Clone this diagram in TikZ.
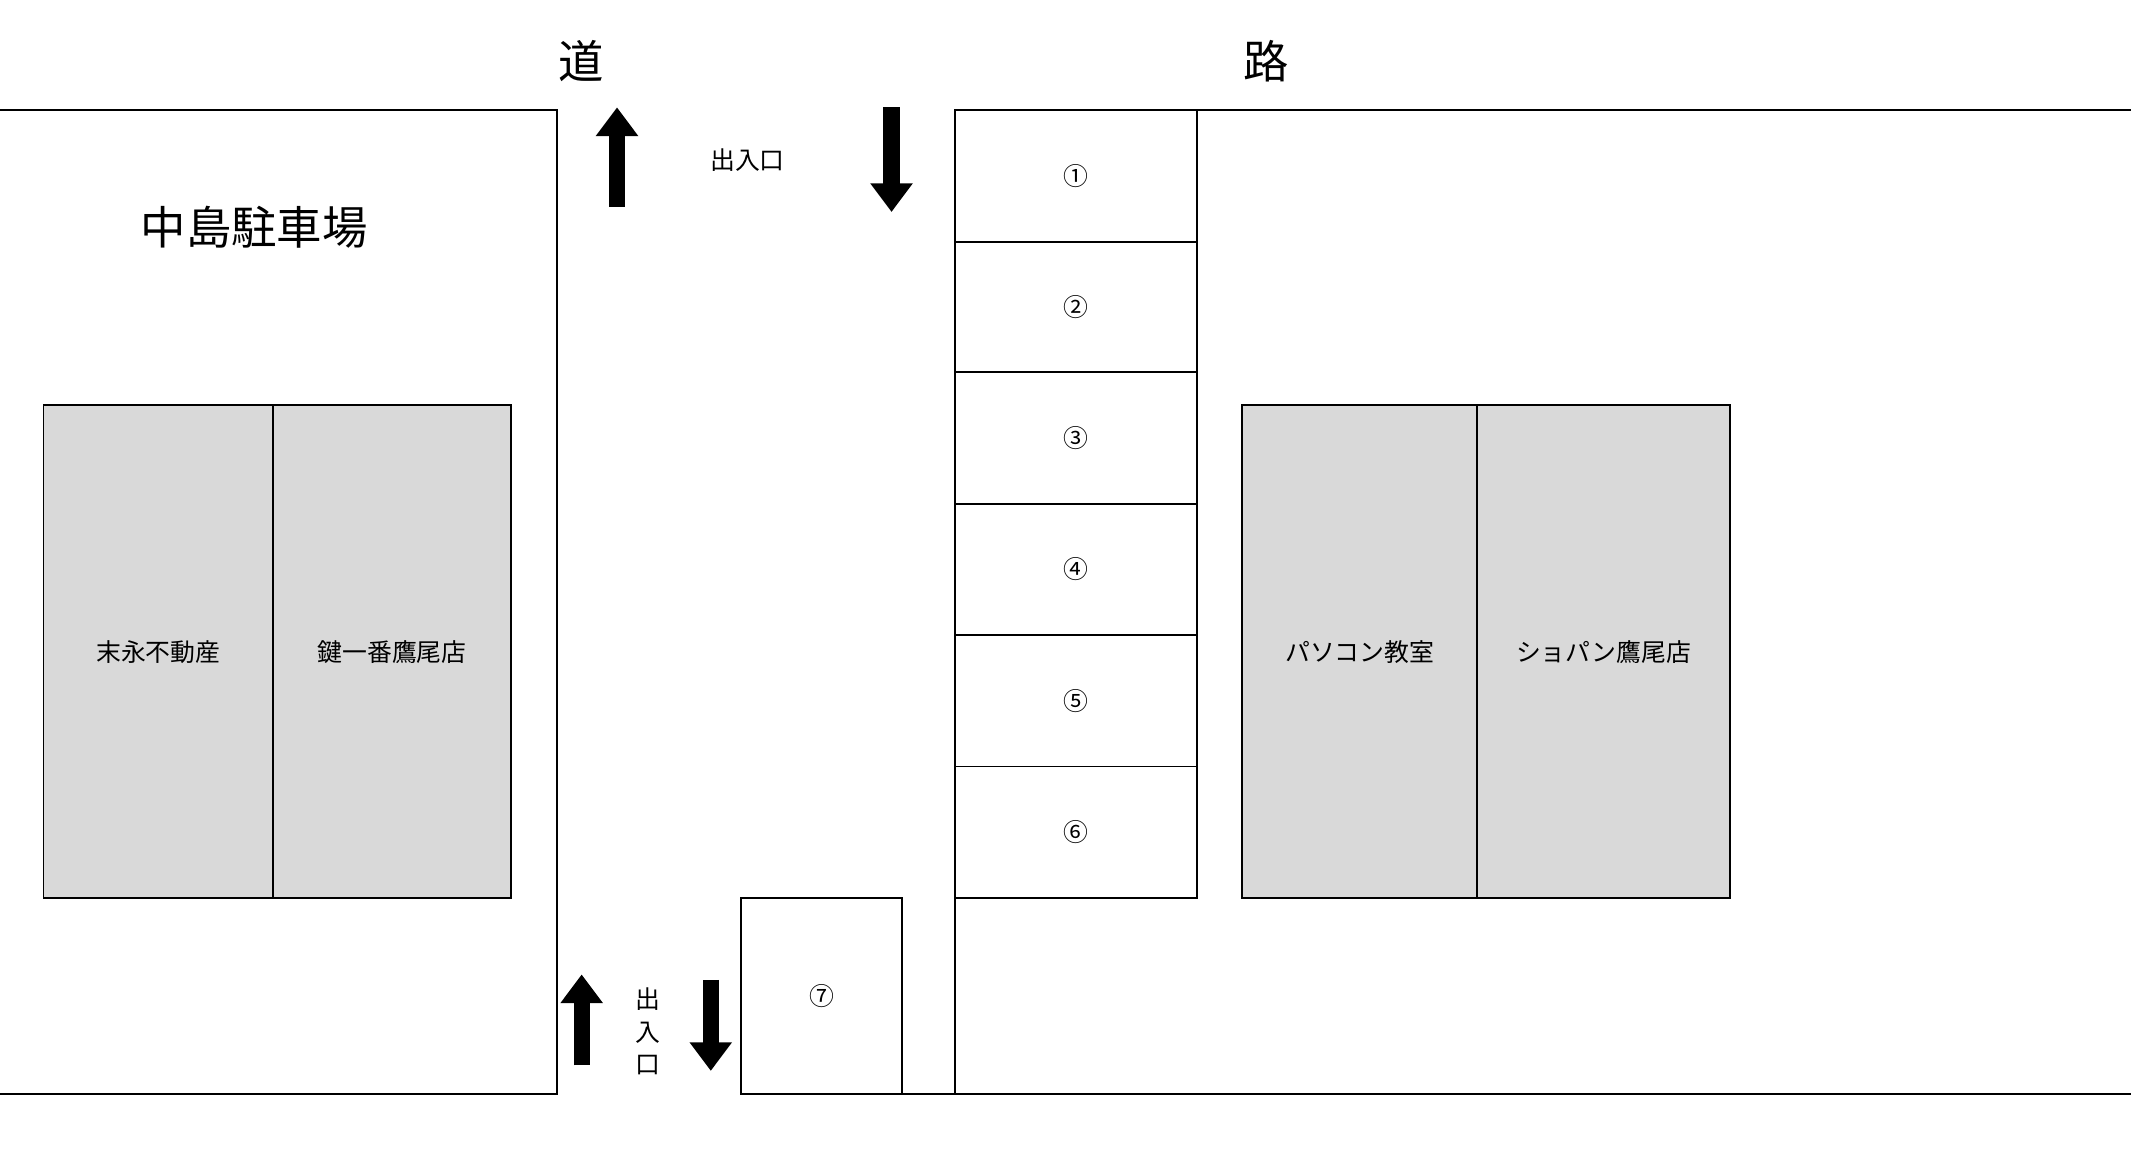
\documentclass[tikz,border=0pt]{standalone}
\usepackage{fontspec}
\setmainfont{Noto Sans CJK JP}
\usetikzlibrary{arrows.meta}
\begin{document}
\begin{tikzpicture}[x=0.01cm,y=-0.01cm,
  ln/.style={draw=black,line width=0.4pt},
  bld/.style={draw=black,fill=black!15,line width=0.4pt},
  small/.style={font=\fontsize{5.2}{6}\selectfont,inner sep=0pt},
  big/.style={font=\fontsize{9.5}{11}\selectfont,inner sep=0pt},
  arr/.style={line width=3.4pt,-{Triangle[width=8.5pt,length=6pt]}}]
\useasboundingbox (0,0) rectangle (1568,858);
\fill[white] (0,0) rectangle (1568,858);
% lots
\draw[ln] (0,81) -- (410,81) -- (410,805) -- (0,805);
\draw[ln] (1568,81) -- (703,81) -- (703,805) -- (1568,805);
\draw[ln] (545,805) -- (703,805);
\draw[ln] (545,661) rectangle (664,805);
\node[small] (s7) at (604.5,733) {⑦};
% slots
\foreach \a/\b/\n [count=\i] in {81/178/①,178/274/②,274/371/③,371/467/④,467/564/⑤,564/661/⑥}{
  \draw[ln] (703,\a) rectangle (881,\b);
  \node[small] (s\i) at (792,{(\a+\b)/2}) {\n};
}
% buildings
\draw[bld] (32,298) rectangle (201,661);
\draw[bld] (201,298) rectangle (376,661);
\draw[bld] (914,298) rectangle (1087,661);
\draw[bld] (1087,298) rectangle (1273,661);
\node[small] (b1) at (116.5,480) {末永不動産};
\node[small] (b2) at (288.5,480) {鍵一番鷹尾店};
\node[small] (b3) at (1000.5,480) {パソコン教室};
\node[small] (b4) at (1180,480) {ショパン鷹尾店};
% titles
\node[big] (t1) at (428,45) {道};
\node[big] (t2) at (932,45) {路};
\node[big] (t3) at (187,167) {中島駐車場};
\node[small] (e1) at (550,118) {出入口};
\node[small,align=center,font=\fontsize{5.2}{6.8}\selectfont] (e2) at (477,759) {出\\入\\口};
% arrows
\coordinate (a1s) at (454,152); \coordinate (a1e) at (454,79);
\coordinate (a2s) at (656,79); \coordinate (a2e) at (656,156);
\coordinate (a3s) at (428,784); \coordinate (a3e) at (428,717);
\coordinate (a4s) at (523,721); \coordinate (a4e) at (523,788);
\draw[arr] (a1s) -- (a1e);
\draw[arr] (a2s) -- (a2e);
\draw[arr] (a3s) -- (a3e);
\draw[arr] (a4s) -- (a4e);
\end{tikzpicture}
\end{document}
